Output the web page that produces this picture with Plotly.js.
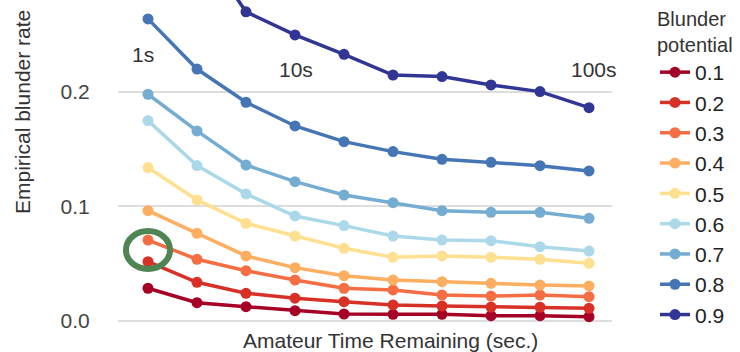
<!DOCTYPE html>
<html>
<head>
<meta charset="utf-8">
<script src="https://cdn.plot.ly/plotly-3.0.1.min.js"></script>
<style>html,body{margin:0;padding:0;background:#fff;}#chart{width:740px;height:352px;}</style>
</head>
<body>
<div id="chart"></div>
<script>
// Time bins (evenly spaced, ~1s ... ~100s)
const timeBins = [1, 2, 3, 4, 5, 6, 7, 8, 9, 10];
const potentials = ["0.1", "0.2", "0.3", "0.4", "0.5", "0.6", "0.7", "0.8", "0.9"];
const colors = ["#a50026", "#d73027", "#f46d43", "#fdae61", "#fee090", "#abd9e9", "#74add1", "#4575b4", "#313695"];

const rate01 = [0.0286, 0.0160, 0.0125, 0.0090, 0.0061, 0.0058, 0.0058, 0.0046, 0.0046, 0.0038];
const rate02 = [0.0518, 0.0338, 0.0242, 0.0199, 0.0169, 0.0140, 0.0131, 0.0122, 0.0120, 0.0111];
const rate03 = [0.0707, 0.0539, 0.0439, 0.0358, 0.0286, 0.0271, 0.0227, 0.0218, 0.0227, 0.0212];
const rate04 = [0.0963, 0.0766, 0.0568, 0.0466, 0.0396, 0.0358, 0.0343, 0.0329, 0.0314, 0.0306];
const rate05 = [0.1340, 0.1057, 0.0853, 0.0742, 0.0635, 0.0556, 0.0568, 0.0556, 0.0539, 0.0504];
const rate06 = [0.1750, 0.1357, 0.1110, 0.0917, 0.0833, 0.0742, 0.0707, 0.0701, 0.0649, 0.0611];
const rate07 = [0.1980, 0.1660, 0.1362, 0.1217, 0.1100, 0.1033, 0.0963, 0.0949, 0.0949, 0.0897];
const rate08 = [0.2638, 0.2200, 0.1910, 0.1703, 0.1566, 0.1479, 0.1412, 0.1386, 0.1356, 0.1310];
const rate09 = [0.3800, 0.3330, 0.2700, 0.2498, 0.2329, 0.2148, 0.2134, 0.2061, 0.2003, 0.1863];
const allRates = [rate01, rate02, rate03, rate04, rate05, rate06, rate07, rate08, rate09];

const timeLabels = ["1s", "10s", "100s"];

const FONT = '"Liberation Sans", Arial, sans-serif';
const TXT = '#333';
const FS = 21;

const traces = potentials.map((p, i) => ({
  type: 'scatter',
  mode: 'lines+markers',
  name: p,
  x: timeBins,
  y: allRates[i],
  line: {color: colors[i], width: 3.5},
  marker: {color: colors[i], size: 11, symbol: 'circle'},
  cliponaxis: true
}));

const layout = {
  width: 740,
  height: 352,
  margin: {l: 118, r: 128, t: 0, b: 29},
  paper_bgcolor: '#fff',
  plot_bgcolor: '#fff',
  font: {family: FONT, size: FS, color: TXT},
  showlegend: true,
  xaxis: {
    range: [0.388, 10.469],
    showticklabels: false,
    showgrid: false,
    zeroline: false,
    showline: false,
    ticks: ''
  },
  yaxis: {
    range: [-0.00175, 0.2803],
    tickvals: [0, 0.1, 0.2],
    ticktext: ["0.0", "0.1", "0.2"],
    showgrid: true,
    gridcolor: '#dddddd',
    gridwidth: 2,
    zeroline: false,
    showline: false,
    ticks: 'outside',
    ticklen: 23,
    tickcolor: 'rgba(0,0,0,0)',
    tickfont: {family: FONT, size: FS, color: '#444'}
  },
  legend: {
    x: 1.087, xanchor: 'left',
    y: 1.0, yanchor: 'top',
    bgcolor: 'rgba(0,0,0,0)',
    font: {family: FONT, size: FS, color: '#222'},
    title: {text: 'Blunder<br>potential', font: {family: FONT, size: 20, color: '#333'}},
    tracegroupgap: 0,
    itemwidth: 30
  },
  annotations: [
    {text: 'Empirical blunder rate', xref: 'paper', yref: 'paper', x: -0.1923, y: 0.6533,
     xanchor: 'center', yanchor: 'middle', textangle: -90, showarrow: false,
     font: {family: FONT, size: FS, color: TXT}},
    {text: 'Amateur Time Remaining (sec.)', xref: 'paper', yref: 'paper', x: 0.5526, y: -0.0557,
     xanchor: 'center', yanchor: 'middle', showarrow: false,
     font: {family: FONT, size: FS, color: TXT}},
    {text: timeLabels[0], xref: 'paper', yref: 'paper', x: 0.0506, y: 0.8313,
     xanchor: 'center', yanchor: 'middle', showarrow: false, font: {family: FONT, size: FS, color: TXT}},
    {text: timeLabels[1], xref: 'paper', yref: 'paper', x: 0.3613, y: 0.7848,
     xanchor: 'center', yanchor: 'middle', showarrow: false, font: {family: FONT, size: FS, color: TXT}},
    {text: timeLabels[2], xref: 'paper', yref: 'paper', x: 0.9636, y: 0.7848,
     xanchor: 'center', yanchor: 'middle', showarrow: false, font: {family: FONT, size: FS, color: TXT}}
  ],
  shapes: [
    {type: 'circle', xref: 'x', yref: 'y', x0: 0.55, x1: 1.45, y0: 0.0455, y1: 0.0785,
     line: {color: '#4f8553', width: 6}, fillcolor: 'rgba(0,0,0,0)'}
  ]
};

Plotly.newPlot('chart', traces, layout, {displayModeBar: false, staticPlot: true});
</script>
</body>
</html>
